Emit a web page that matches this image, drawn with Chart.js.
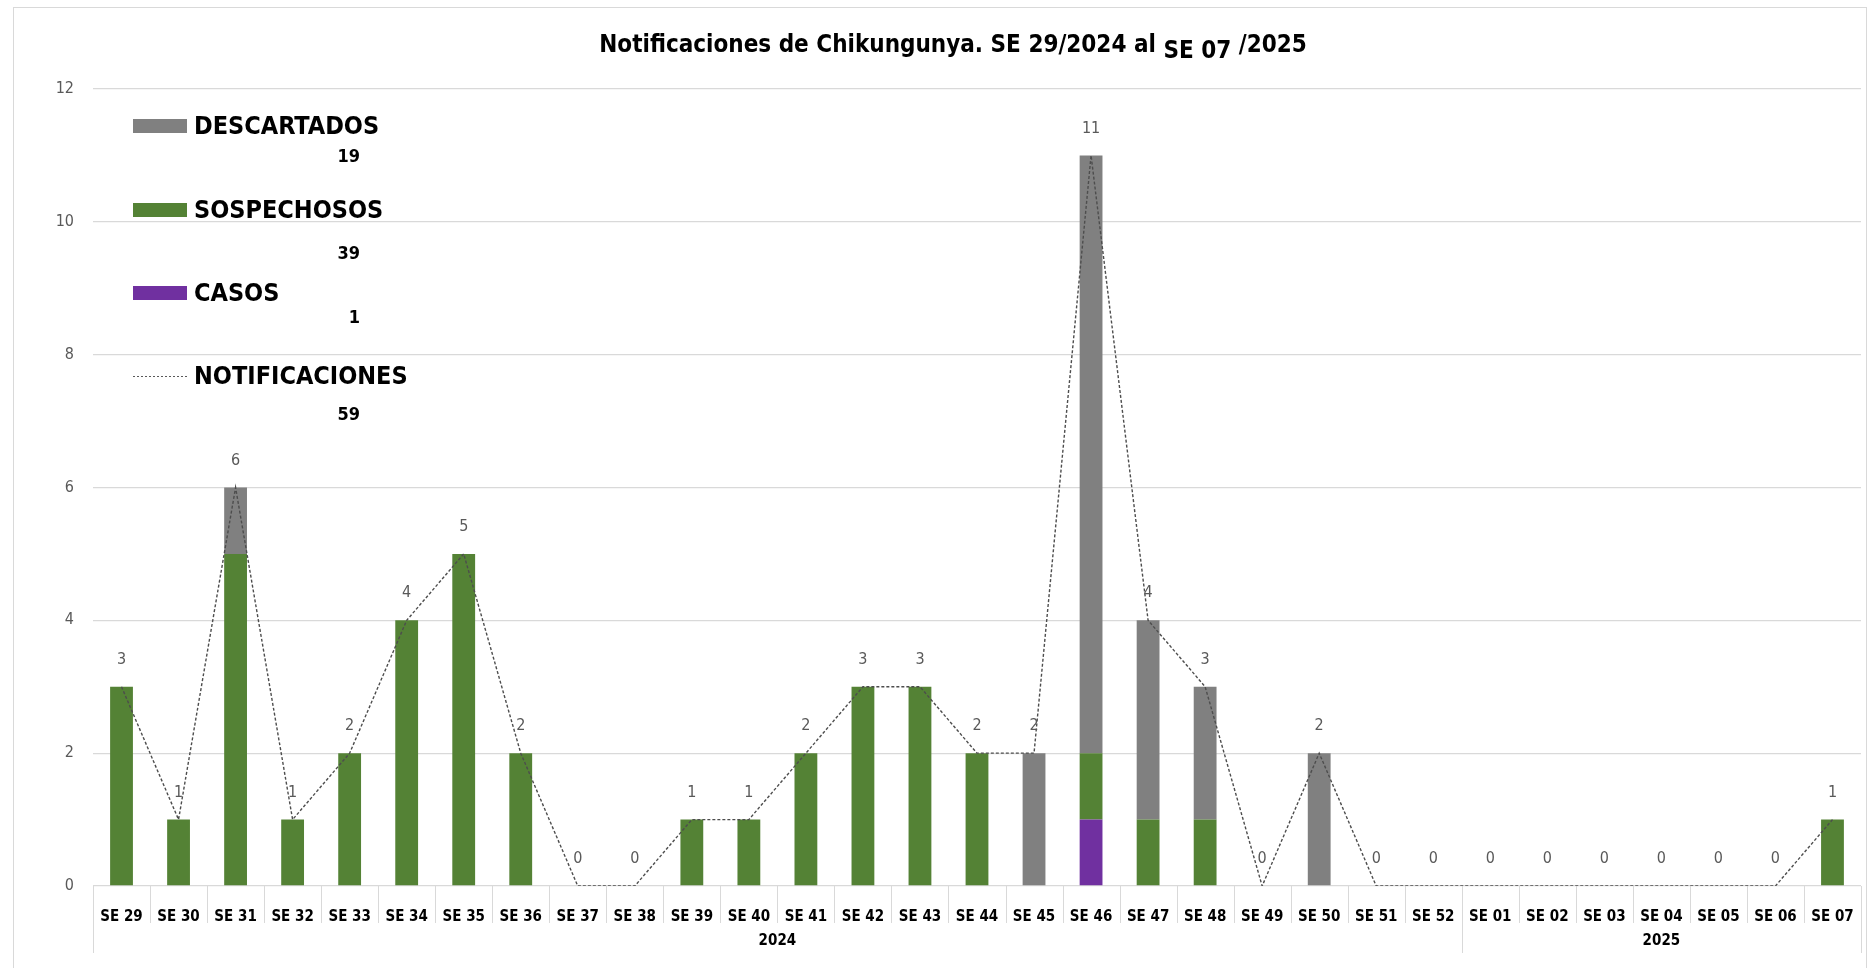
<!DOCTYPE html>
<html>
<head>
<meta charset="utf-8">
<script src="https://cdn.jsdelivr.net/npm/chart.js@4/dist/chart.umd.min.js"></script>
<style>
  html, body { margin: 0; padding: 0; background: #fff; }
  #wrap { width: 1868px; height: 968px; position: relative; }
</style>
</head>
<body>
<div id="wrap"><canvas id="chikChart"></canvas></div>
<script>
const weeks = ["SE 29", "SE 30", "SE 31", "SE 32", "SE 33", "SE 34", "SE 35", "SE 36", "SE 37", "SE 38",
    "SE 39", "SE 40", "SE 41", "SE 42", "SE 43", "SE 44", "SE 45", "SE 46", "SE 47", "SE 48",
    "SE 49", "SE 50", "SE 51", "SE 52", "SE 01", "SE 02", "SE 03", "SE 04", "SE 05", "SE 06", "SE 07"];
const years = ["2024", "2025"];
const weeksPerYear = [24, 7];

const casos =          [0, 0, 0, 0, 0, 0, 0, 0, 0, 0, 0, 0, 0, 0, 0, 0, 0, 1, 0, 0, 0, 0, 0, 0, 0, 0, 0, 0, 0, 0, 0];
const sospechosos =    [3, 1, 5, 1, 2, 4, 5, 2, 0, 0, 1, 1, 2, 3, 3, 2, 0, 1, 1, 1, 0, 0, 0, 0, 0, 0, 0, 0, 0, 0, 1];
const descartados =    [0, 0, 1, 0, 0, 0, 0, 0, 0, 0, 0, 0, 0, 0, 0, 0, 2, 9, 3, 2, 0, 2, 0, 0, 0, 0, 0, 0, 0, 0, 0];
const notificaciones = [3, 1, 6, 1, 2, 4, 5, 2, 0, 0, 1, 1, 2, 3, 3, 2, 2, 11, 4, 3, 0, 2, 0, 0, 0, 0, 0, 0, 0, 0, 1];

const yTicks = [0, 2, 4, 6, 8, 10, 12];

const titleParts = ["Notificaciones de Chikungunya. SE 29/2024 al ", "SE 07", " /2025"];

const FONT = "'Liberation Sans Narrow', 'DejaVu Sans Condensed', Carlito, Calibri, 'Liberation Sans', sans-serif";
const GRID = "#d9d9d9";
const sum = arr => arr.reduce((a, b) => a + b, 0);

// frame + title
const frameTitle = {
    id: "frameTitle",
    beforeDraw(chart) {
        const ctx = chart.ctx;
        ctx.save();
        ctx.strokeStyle = GRID;
        ctx.lineWidth = 1;
        ctx.strokeRect(13.5, 7.5, 1853, 980);
        ctx.restore();
    },
    afterDraw(chart) {
        const ctx = chart.ctx;
        ctx.save();
        ctx.fillStyle = "#000";
        ctx.textBaseline = "alphabetic";
        ctx.font = "bold 24px " + FONT;
        const widths = titleParts.map(t => ctx.measureText(t).width);
        let x = 953 - sum(widths) / 2;
        titleParts.forEach((t, i) => {
            ctx.fillText(t, x, i === 1 ? 58 : 52);
            x += widths[i];
        });
        ctx.restore();
    }
};

// custom legend with totals
const sideLegend = {
    id: "sideLegend",
    afterDraw(chart) {
        const ctx = chart.ctx;
        const items = [
            { label: "DESCARTADOS", color: "#808080", total: sum(descartados), y: 126, ty: 157, line: false },
            { label: "SOSPECHOSOS", color: "#548235", total: sum(sospechosos), y: 210, ty: 254, line: false },
            { label: "CASOS", color: "#7030a0", total: sum(casos), y: 293, ty: 318, line: false },
            { label: "NOTIFICACIONES", color: "#595959", total: sum(notificaciones), y: 376, ty: 415, line: true }
        ];
        ctx.save();
        items.forEach(it => {
            if (it.line) {
                ctx.strokeStyle = it.color;
                ctx.lineWidth = 1;
                ctx.setLineDash([2, 2]);
                ctx.beginPath();
                ctx.moveTo(133, it.y + 0.5);
                ctx.lineTo(187, it.y + 0.5);
                ctx.stroke();
                ctx.setLineDash([]);
            } else {
                ctx.fillStyle = it.color;
                ctx.fillRect(133, it.y - 7, 54, 14);
            }
            ctx.fillStyle = "#000";
            ctx.font = "bold 25px " + FONT;
            ctx.textAlign = "left";
            ctx.textBaseline = "middle";
            ctx.fillText(it.label, 194, it.y + 1);
            ctx.font = "bold 18px " + FONT;
            ctx.textAlign = "right";
            ctx.fillText(String(it.total), 360, it.ty);
        });
        ctx.restore();
    }
};

// value labels above the line
const pointLabels = {
    id: "pointLabels",
    afterDatasetsDraw(chart) {
        const ctx = chart.ctx;
        const meta = chart.getDatasetMeta(3);
        ctx.save();
        ctx.fillStyle = "#595959";
        ctx.font = "16px " + FONT;
        ctx.textAlign = "center";
        ctx.textBaseline = "middle";
        meta.data.forEach((pt, i) => {
            ctx.fillText(String(notificaciones[i]), pt.x, pt.y - 27);
        });
        ctx.restore();
    }
};

// two-level category axis: separators + year row
const groupAxis = {
    id: "groupAxis",
    afterDraw(chart) {
        const ctx = chart.ctx;
        const xs = chart.scales.x;
        const area = chart.chartArea;
        const step = xs.getPixelForValue(1) - xs.getPixelForValue(0);
        const bounds = [0];
        weeksPerYear.forEach(n => bounds.push(bounds[bounds.length - 1] + n));
        ctx.save();
        ctx.strokeStyle = GRID;
        ctx.lineWidth = 1;
        for (let i = 0; i <= weeks.length; i++) {
            const x = Math.round(xs.getPixelForValue(i) - step / 2) + 0.5;
            const bottom = bounds.includes(i) ? area.bottom + 67 : area.bottom + 37;
            ctx.beginPath();
            ctx.moveTo(x, area.bottom);
            ctx.lineTo(x, bottom);
            ctx.stroke();
        }
        ctx.fillStyle = "#000";
        ctx.font = "bold 15px " + FONT;
        ctx.textAlign = "center";
        ctx.textBaseline = "middle";
        years.forEach((yr, k) => {
            const a = xs.getPixelForValue(bounds[k]) - step / 2;
            const b = xs.getPixelForValue(bounds[k + 1] - 1) + step / 2;
            ctx.fillText(yr, (a + b) / 2, area.bottom + 55);
        });
        ctx.restore();
    }
};

new Chart(document.getElementById("chikChart"), {
    type: "bar",
    data: {
        labels: weeks,
        datasets: [
            { label: "CASOS", data: casos, backgroundColor: "#7030a0", stack: "s", order: 2 },
            { label: "SOSPECHOSOS", data: sospechosos, backgroundColor: "#548235", stack: "s", order: 2 },
            { label: "DESCARTADOS", data: descartados, backgroundColor: "#808080", stack: "s", order: 2 },
            {
                type: "line",
                label: "NOTIFICACIONES",
                data: notificaciones,
                borderColor: "#4d4d4d",
                borderWidth: 1.4,
                borderDash: [3, 2],
                pointRadius: 0,
                fill: false,
                tension: 0,
                order: 1
            }
        ]
    },
    options: {
        responsive: true,
        maintainAspectRatio: false,
        animation: false,
        layout: { padding: { top: 89, right: 7, left: 0, bottom: 0 } },
        datasets: { bar: { barPercentage: 0.4, categoryPercentage: 1.0 } },
        scales: {
            x: {
                stacked: true,
                grid: { display: false },
                border: { display: false },
                ticks: {
                    autoSkip: false,
                    maxRotation: 0,
                    padding: 14,
                    color: "#000",
                    font: { family: FONT, size: 15, weight: "bold" }
                },
                afterFit(s) { s.height = 82; }
            },
            y: {
                stacked: true,
                min: 0,
                max: 12,
                afterBuildTicks(s) { s.ticks = yTicks.map(v => ({ value: v })); },
                grid: { color: GRID, lineWidth: 1.3, drawTicks: false },
                border: { display: false },
                ticks: {
                    padding: 19,
                    color: "#595959",
                    font: { family: FONT, size: 16 }
                },
                afterFit(s) { s.width = 93; }
            }
        },
        plugins: {
            legend: { display: false },
            title: { display: false },
            tooltip: { enabled: false }
        }
    },
    plugins: [frameTitle, sideLegend, pointLabels, groupAxis]
});
</script>
</body>
</html>
